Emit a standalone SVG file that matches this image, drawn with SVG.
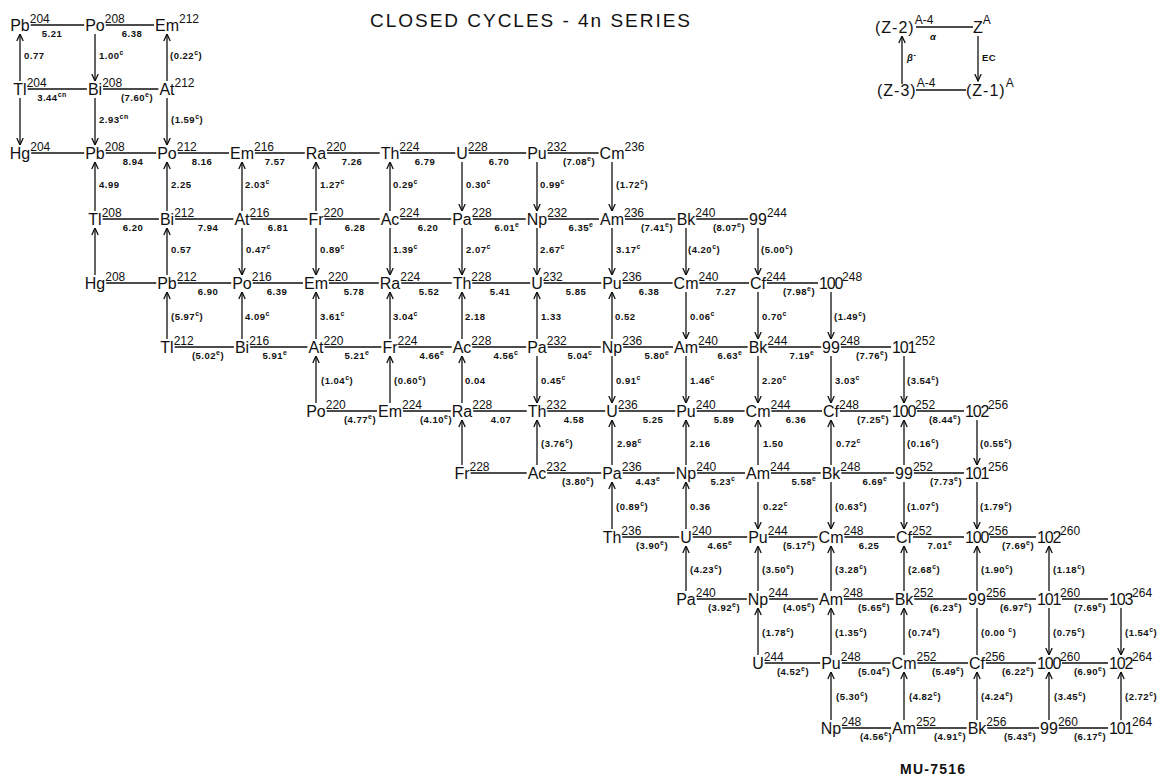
<svg xmlns="http://www.w3.org/2000/svg" width="1173" height="776" viewBox="0 0 1173 776">
<defs>
<style>
.ln{stroke:#111;stroke-width:1.3;fill:none}
.ar{stroke:#111;stroke-width:1.3;fill:none;marker-end:url(#ah)}
.bg{fill:#fff}
.el{font-family:"Liberation Sans",Arial,sans-serif;font-size:16px;fill:#111}
.nm{letter-spacing:-1.2px}
.m{font-size:12px;letter-spacing:0}
.lb{font-family:"Liberation Sans",Arial,sans-serif;font-size:9.5px;font-weight:bold;letter-spacing:0.5px;fill:#111}
.h{text-anchor:middle}
.s{font-size:7px}
.ttl{font-family:"Liberation Sans",Arial,sans-serif;font-size:19px;fill:#111}
</style>
<marker id="ah" viewBox="0 0 8 8" refX="7.5" refY="4" markerWidth="8" markerHeight="8" markerUnits="userSpaceOnUse" orient="auto"><path d="M0.5,0.8 L7.5,4 L0.5,7.2" fill="none" stroke="#111" stroke-width="1.3"/></marker>
</defs>
<rect width="1173" height="776" fill="#fff"/>
<text class="ttl" x="530" y="27" text-anchor="middle" textLength="320" lengthAdjust="spacing">CLOSED CYCLES - 4n SERIES</text>

<g id="connectors">
<path class="ln" d="M20,25H95M95,25H167"/>
<path class="ln" d="M20,89H95M95,89H167"/>
<path class="ln" d="M20,153H95M95,153H167M167,153H242M242,153H316M316,153H390M390,153H462M462,153H537M537,153H612"/>
<path class="ln" d="M95,219H167M167,219H242M242,219H316M316,219H390M390,219H462M462,219H537M537,219H612M612,219H686M686,219H758"/>
<path class="ln" d="M95,283H167M167,283H242M242,283H316M316,283H390M390,283H462M462,283H537M537,283H612M612,283H686M686,283H758M758,283H831"/>
<path class="ln" d="M167,347H242M242,347H316M316,347H390M390,347H462M462,347H537M537,347H612M612,347H686M686,347H758M758,347H831M831,347H904"/>
<path class="ln" d="M316,411H390M390,411H462M462,411H537M537,411H612M612,411H686M686,411H758M758,411H831M831,411H904M904,411H977"/>
<path class="ln" d="M462,473H537M537,473H612M612,473H686M686,473H758M758,473H831M831,473H904M904,473H977"/>
<path class="ln" d="M612,537H686M686,537H758M758,537H831M831,537H904M904,537H977M977,537H1049"/>
<path class="ln" d="M686,599H758M758,599H831M831,599H904M904,599H977M977,599H1049M1049,599H1121"/>
<path class="ln" d="M758,663H831M831,663H904M904,663H977M977,663H1049M1049,663H1121"/>
<path class="ln" d="M831,728H904M904,728H977M977,728H1049M1049,728H1121"/>

<path class="ar" d="M20,81V34"/>
<path class="ar" d="M95,34V81"/>
<path class="ar" d="M167,81V34"/>

<path class="ar" d="M20,98V145"/>
<path class="ar" d="M95,98V145"/>
<path class="ar" d="M167,98V145"/>

<path class="ar" d="M95,211V162"/>
<path class="ar" d="M167,211V162"/>
<path class="ar" d="M242,211V162"/>
<path class="ar" d="M316,211V162"/>
<path class="ar" d="M390,211V162"/>
<path class="ar" d="M462,162V211"/>
<path class="ar" d="M537,162V211"/>
<path class="ar" d="M612,162V211"/>

<path class="ar" d="M95,275V228"/>
<path class="ar" d="M167,275V228"/>
<path class="ar" d="M242,228V275"/>
<path class="ar" d="M316,228V275"/>
<path class="ar" d="M390,228V275"/>
<path class="ar" d="M462,228V275"/>
<path class="ar" d="M537,228V275"/>
<path class="ar" d="M612,228V275"/>
<path class="ar" d="M686,228V275"/>
<path class="ar" d="M758,228V275"/>

<path class="ar" d="M167,339V292"/>
<path class="ar" d="M242,339V292"/>
<path class="ar" d="M316,339V292"/>
<path class="ar" d="M390,339V292"/>
<path class="ar" d="M462,339V292"/>
<path class="ar" d="M537,339V292"/>
<path class="ar" d="M612,339V292"/>
<path class="ar" d="M686,292V339"/>
<path class="ar" d="M758,292V339"/>
<path class="ar" d="M831,292V339"/>

<path class="ar" d="M316,403V356"/>
<path class="ar" d="M390,403V356"/>
<path class="ar" d="M462,403V356"/>
<path class="ar" d="M537,356V403"/>
<path class="ar" d="M612,356V403"/>
<path class="ar" d="M686,356V403"/>
<path class="ar" d="M758,356V403"/>
<path class="ar" d="M831,356V403"/>
<path class="ar" d="M904,356V403"/>

<path class="ar" d="M462,465V420"/>
<path class="ar" d="M537,465V420"/>
<path class="ar" d="M612,465V420"/>
<path class="ar" d="M686,465V420"/>
<path class="ar" d="M758,465V420"/>
<path class="ar" d="M831,465V420"/>
<path class="ar" d="M904,465V420"/>
<path class="ar" d="M977,420V465"/>

<path class="ar" d="M612,529V482"/>
<path class="ar" d="M686,529V482"/>
<path class="ar" d="M758,482V529"/>
<path class="ar" d="M831,482V529"/>
<path class="ar" d="M904,482V529"/>
<path class="ar" d="M977,482V529"/>

<path class="ar" d="M686,591V546"/>
<path class="ar" d="M758,591V546"/>
<path class="ar" d="M831,591V546"/>
<path class="ar" d="M904,591V546"/>
<path class="ar" d="M977,591V546"/>
<path class="ar" d="M1049,591V546"/>

<path class="ar" d="M758,655V608"/>
<path class="ar" d="M831,655V608"/>
<path class="ar" d="M904,655V608"/>
<path class="ln" d="M977,608V655"/>
<path class="ar" d="M1049,608V655"/>
<path class="ar" d="M1121,608V655"/>

<path class="ar" d="M831,720V672"/>
<path class="ar" d="M904,720V672"/>
<path class="ar" d="M977,720V672"/>
<path class="ar" d="M1049,720V672"/>
<path class="ar" d="M1121,720V672"/>
</g>

<g id="labels">
<text class="lb h" x="52" y="37">5.21</text>
<text class="lb h" x="132" y="37">6.38</text>
<text class="lb h" x="52" y="101">3.44<tspan class="s" dy="-4">cn</tspan></text>
<text class="lb h" x="137" y="101">(7.60<tspan class="s" dy="-4">e</tspan><tspan dy="4">)</tspan></text>

<text class="lb h" x="133" y="165">8.94</text>
<text class="lb h" x="202" y="165">8.16</text>
<text class="lb h" x="275" y="165">7.57</text>
<text class="lb h" x="352" y="165">7.26</text>
<text class="lb h" x="425" y="165">6.79</text>
<text class="lb h" x="499" y="165">6.70</text>
<text class="lb h" x="579" y="165">(7.08<tspan class="s" dy="-4">e</tspan><tspan dy="4">)</tspan></text>

<text class="lb h" x="133" y="231">6.20</text>
<text class="lb h" x="208" y="231">7.94</text>
<text class="lb h" x="278" y="231">6.81</text>
<text class="lb h" x="355" y="231">6.28</text>
<text class="lb h" x="428" y="231">6.20</text>
<text class="lb h" x="507" y="231">6.01<tspan class="s" dy="-4">e</tspan></text>
<text class="lb h" x="581" y="231">6.35<tspan class="s" dy="-4">e</tspan></text>
<text class="lb h" x="657" y="231">(7.41<tspan class="s" dy="-4">e</tspan><tspan dy="4">)</tspan></text>
<text class="lb h" x="729" y="231">(8.07<tspan class="s" dy="-4">e</tspan><tspan dy="4">)</tspan></text>

<text class="lb h" x="208" y="295">6.90</text>
<text class="lb h" x="277" y="295">6.39</text>
<text class="lb h" x="354" y="295">5.78</text>
<text class="lb h" x="429" y="295">5.52</text>
<text class="lb h" x="500" y="295">5.41</text>
<text class="lb h" x="576" y="295">5.85</text>
<text class="lb h" x="649" y="295">6.38</text>
<text class="lb h" x="726" y="295">7.27</text>
<text class="lb h" x="799" y="295">(7.98<tspan class="s" dy="-4">e</tspan><tspan dy="4">)</tspan></text>

<text class="lb h" x="208" y="359">(5.02<tspan class="s" dy="-4">e</tspan><tspan dy="4">)</tspan></text>
<text class="lb h" x="275" y="359">5.91<tspan class="s" dy="-4">e</tspan></text>
<text class="lb h" x="357" y="359">5.21<tspan class="s" dy="-4">e</tspan></text>
<text class="lb h" x="432" y="359">4.66<tspan class="s" dy="-4">e</tspan></text>
<text class="lb h" x="506" y="359">4.56<tspan class="s" dy="-4">c</tspan></text>
<text class="lb h" x="580" y="359">5.04<tspan class="s" dy="-4">c</tspan></text>
<text class="lb h" x="657" y="359">5.80<tspan class="s" dy="-4">e</tspan></text>
<text class="lb h" x="730" y="359">6.63<tspan class="s" dy="-4">e</tspan></text>
<text class="lb h" x="802" y="359">7.19<tspan class="s" dy="-4">e</tspan></text>
<text class="lb h" x="872" y="359">(7.76<tspan class="s" dy="-4">e</tspan><tspan dy="4">)</tspan></text>

<text class="lb h" x="360" y="423">(4.77<tspan class="s" dy="-4">e</tspan><tspan dy="4">)</tspan></text>
<text class="lb h" x="436" y="423">(4.10<tspan class="s" dy="-4">e</tspan><tspan dy="4">)</tspan></text>
<text class="lb h" x="501" y="423">4.07</text>
<text class="lb h" x="574" y="423">4.58</text>
<text class="lb h" x="653" y="423">5.25</text>
<text class="lb h" x="724" y="423">5.89</text>
<text class="lb h" x="796" y="423">6.36</text>
<text class="lb h" x="873" y="423">(7.25<tspan class="s" dy="-4">e</tspan><tspan dy="4">)</tspan></text>
<text class="lb h" x="945" y="423">(8.44<tspan class="s" dy="-4">e</tspan><tspan dy="4">)</tspan></text>

<text class="lb h" x="578" y="485">(3.80<tspan class="s" dy="-4">e</tspan><tspan dy="4">)</tspan></text>
<text class="lb h" x="648" y="485">4.43<tspan class="s" dy="-4">e</tspan></text>
<text class="lb h" x="723" y="485">5.23<tspan class="s" dy="-4">c</tspan></text>
<text class="lb h" x="804" y="485">5.58<tspan class="s" dy="-4">e</tspan></text>
<text class="lb h" x="875" y="485">6.69<tspan class="s" dy="-4">e</tspan></text>
<text class="lb h" x="946" y="485">(7.73<tspan class="s" dy="-4">e</tspan><tspan dy="4">)</tspan></text>

<text class="lb h" x="652" y="549">(3.90<tspan class="s" dy="-4">e</tspan><tspan dy="4">)</tspan></text>
<text class="lb h" x="720" y="549">4.65<tspan class="s" dy="-4">e</tspan></text>
<text class="lb h" x="799" y="549">(5.17<tspan class="s" dy="-4">e</tspan><tspan dy="4">)</tspan></text>
<text class="lb h" x="869" y="549">6.25</text>
<text class="lb h" x="940" y="549">7.01<tspan class="s" dy="-4">e</tspan></text>
<text class="lb h" x="1018" y="549">(7.69<tspan class="s" dy="-4">e</tspan><tspan dy="4">)</tspan></text>

<text class="lb h" x="724" y="611">(3.92<tspan class="s" dy="-4">e</tspan><tspan dy="4">)</tspan></text>
<text class="lb h" x="799" y="611">(4.05<tspan class="s" dy="-4">e</tspan><tspan dy="4">)</tspan></text>
<text class="lb h" x="874" y="611">(5.65<tspan class="s" dy="-4">e</tspan><tspan dy="4">)</tspan></text>
<text class="lb h" x="946" y="611">(6.23<tspan class="s" dy="-4">e</tspan><tspan dy="4">)</tspan></text>
<text class="lb h" x="1016" y="611">(6.97<tspan class="s" dy="-4">e</tspan><tspan dy="4">)</tspan></text>
<text class="lb h" x="1090" y="611">(7.69<tspan class="s" dy="-4">e</tspan><tspan dy="4">)</tspan></text>

<text class="lb h" x="793" y="675">(4.52<tspan class="s" dy="-4">e</tspan><tspan dy="4">)</tspan></text>
<text class="lb h" x="874" y="675">(5.04<tspan class="s" dy="-4">e</tspan><tspan dy="4">)</tspan></text>
<text class="lb h" x="948" y="675">(5.49<tspan class="s" dy="-4">e</tspan><tspan dy="4">)</tspan></text>
<text class="lb h" x="1018" y="675">(6.22<tspan class="s" dy="-4">e</tspan><tspan dy="4">)</tspan></text>
<text class="lb h" x="1090" y="675">(6.90<tspan class="s" dy="-4">e</tspan><tspan dy="4">)</tspan></text>

<text class="lb h" x="876" y="740">(4.56<tspan class="s" dy="-4">e</tspan><tspan dy="4">)</tspan></text>
<text class="lb h" x="950" y="740">(4.91<tspan class="s" dy="-4">e</tspan><tspan dy="4">)</tspan></text>
<text class="lb h" x="1020" y="740">(5.43<tspan class="s" dy="-4">e</tspan><tspan dy="4">)</tspan></text>
<text class="lb h" x="1090" y="740">(6.17<tspan class="s" dy="-4">e</tspan><tspan dy="4">)</tspan></text>

<text class="lb" x="24" y="59">0.77</text>
<text class="lb" x="99" y="59">1.00<tspan class="s" dy="-4">c</tspan></text>
<text class="lb" x="170" y="59">(0.22<tspan class="s" dy="-4">c</tspan><tspan dy="4">)</tspan></text>
<text class="lb" x="99" y="123">2.93<tspan class="s" dy="-4">cn</tspan></text>
<text class="lb" x="171" y="123">(1.59<tspan class="s" dy="-4">c</tspan><tspan dy="4">)</tspan></text>

<text class="lb" x="99" y="188">4.99</text>
<text class="lb" x="171" y="188">2.25</text>
<text class="lb" x="245" y="188">2.03<tspan class="s" dy="-4">c</tspan></text>
<text class="lb" x="320" y="188">1.27<tspan class="s" dy="-4">c</tspan></text>
<text class="lb" x="393" y="188">0.29<tspan class="s" dy="-4">c</tspan></text>
<text class="lb" x="466" y="188">0.30<tspan class="s" dy="-4">c</tspan></text>
<text class="lb" x="540" y="188">0.99<tspan class="s" dy="-4">c</tspan></text>
<text class="lb" x="616" y="188">(1.72<tspan class="s" dy="-4">c</tspan><tspan dy="4">)</tspan></text>

<text class="lb" x="171" y="253">0.57</text>
<text class="lb" x="246" y="253">0.47<tspan class="s" dy="-4">c</tspan></text>
<text class="lb" x="320" y="253">0.89<tspan class="s" dy="-4">c</tspan></text>
<text class="lb" x="393" y="253">1.39<tspan class="s" dy="-4">c</tspan></text>
<text class="lb" x="466" y="253">2.07<tspan class="s" dy="-4">c</tspan></text>
<text class="lb" x="540" y="253">2.67<tspan class="s" dy="-4">c</tspan></text>
<text class="lb" x="616" y="253">3.17<tspan class="s" dy="-4">c</tspan></text>
<text class="lb" x="688" y="253">(4.20<tspan class="s" dy="-4">c</tspan><tspan dy="4">)</tspan></text>
<text class="lb" x="761" y="253">(5.00<tspan class="s" dy="-4">c</tspan><tspan dy="4">)</tspan></text>

<text class="lb" x="171" y="320">(5.97<tspan class="s" dy="-4">c</tspan><tspan dy="4">)</tspan></text>
<text class="lb" x="245" y="320">4.09<tspan class="s" dy="-4">c</tspan></text>
<text class="lb" x="320" y="320">3.61<tspan class="s" dy="-4">c</tspan></text>
<text class="lb" x="393" y="320">3.04<tspan class="s" dy="-4">c</tspan></text>
<text class="lb" x="465" y="320">2.18</text>
<text class="lb" x="541" y="320">1.33</text>
<text class="lb" x="615" y="320">0.52</text>
<text class="lb" x="690" y="320">0.06<tspan class="s" dy="-4">c</tspan></text>
<text class="lb" x="762" y="320">0.70<tspan class="s" dy="-4">c</tspan></text>
<text class="lb" x="834" y="320">(1.49<tspan class="s" dy="-4">c</tspan><tspan dy="4">)</tspan></text>

<text class="lb" x="321" y="384">(1.04<tspan class="s" dy="-4">c</tspan><tspan dy="4">)</tspan></text>
<text class="lb" x="394" y="384">(0.60<tspan class="s" dy="-4">c</tspan><tspan dy="4">)</tspan></text>
<text class="lb" x="465" y="384">0.04</text>
<text class="lb" x="541" y="384">0.45<tspan class="s" dy="-4">c</tspan></text>
<text class="lb" x="616" y="384">0.91<tspan class="s" dy="-4">c</tspan></text>
<text class="lb" x="690" y="384">1.46<tspan class="s" dy="-4">c</tspan></text>
<text class="lb" x="762" y="384">2.20<tspan class="s" dy="-4">c</tspan></text>
<text class="lb" x="835" y="384">3.03<tspan class="s" dy="-4">c</tspan></text>
<text class="lb" x="907" y="384">(3.54<tspan class="s" dy="-4">c</tspan><tspan dy="4">)</tspan></text>

<text class="lb" x="541" y="447">(3.76<tspan class="s" dy="-4">c</tspan><tspan dy="4">)</tspan></text>
<text class="lb" x="617" y="447">2.98<tspan class="s" dy="-4">c</tspan></text>
<text class="lb" x="690" y="447">2.16</text>
<text class="lb" x="763" y="447">1.50</text>
<text class="lb" x="836" y="447">0.72<tspan class="s" dy="-4">c</tspan></text>
<text class="lb" x="907" y="447">(0.16<tspan class="s" dy="-4">c</tspan><tspan dy="4">)</tspan></text>
<text class="lb" x="980" y="447">(0.55<tspan class="s" dy="-4">c</tspan><tspan dy="4">)</tspan></text>

<text class="lb" x="616" y="510">(0.89<tspan class="s" dy="-4">c</tspan><tspan dy="4">)</tspan></text>
<text class="lb" x="690" y="510">0.36</text>
<text class="lb" x="763" y="510">0.22<tspan class="s" dy="-4">c</tspan></text>
<text class="lb" x="835" y="510">(0.63<tspan class="s" dy="-4">c</tspan><tspan dy="4">)</tspan></text>
<text class="lb" x="907" y="510">(1.07<tspan class="s" dy="-4">c</tspan><tspan dy="4">)</tspan></text>
<text class="lb" x="980" y="510">(1.79<tspan class="s" dy="-4">c</tspan><tspan dy="4">)</tspan></text>

<text class="lb" x="690" y="573">(4.23<tspan class="s" dy="-4">c</tspan><tspan dy="4">)</tspan></text>
<text class="lb" x="762" y="573">(3.50<tspan class="s" dy="-4">e</tspan><tspan dy="4">)</tspan></text>
<text class="lb" x="835" y="573">(3.28<tspan class="s" dy="-4">c</tspan><tspan dy="4">)</tspan></text>
<text class="lb" x="908" y="573">(2.68<tspan class="s" dy="-4">c</tspan><tspan dy="4">)</tspan></text>
<text class="lb" x="981" y="573">(1.90<tspan class="s" dy="-4">c</tspan><tspan dy="4">)</tspan></text>
<text class="lb" x="1053" y="573">(1.18<tspan class="s" dy="-4">c</tspan><tspan dy="4">)</tspan></text>

<text class="lb" x="762" y="636">(1.78<tspan class="s" dy="-4">c</tspan><tspan dy="4">)</tspan></text>
<text class="lb" x="835" y="636">(1.35<tspan class="s" dy="-4">c</tspan><tspan dy="4">)</tspan></text>
<text class="lb" x="908" y="636">(0.74<tspan class="s" dy="-4">e</tspan><tspan dy="4">)</tspan></text>
<text class="lb" x="981" y="636">(0.00 <tspan class="s" dy="-4">c</tspan><tspan dy="4">)</tspan></text>
<text class="lb" x="1053" y="636">(0.75<tspan class="s" dy="-4">c</tspan><tspan dy="4">)</tspan></text>
<text class="lb" x="1125" y="636">(1.54<tspan class="s" dy="-4">c</tspan><tspan dy="4">)</tspan></text>

<text class="lb" x="836" y="700">(5.30<tspan class="s" dy="-4">c</tspan><tspan dy="4">)</tspan></text>
<text class="lb" x="909" y="700">(4.82<tspan class="s" dy="-4">c</tspan><tspan dy="4">)</tspan></text>
<text class="lb" x="981" y="700">(4.24<tspan class="s" dy="-4">e</tspan><tspan dy="4">)</tspan></text>
<text class="lb" x="1054" y="700">(3.45<tspan class="s" dy="-4">c</tspan><tspan dy="4">)</tspan></text>
<text class="lb" x="1125" y="700">(2.72<tspan class="s" dy="-4">c</tspan><tspan dy="4">)</tspan></text>
</g>

<g id="n-Pb204"><rect class="bg" x="9.2" y="17" width="21.6" height="15"/><text class="el" x="10.2" y="31">Pb<tspan class="m" dy="-8">204</tspan></text></g>
<g id="n-Po208"><rect class="bg" x="84.2" y="17" width="21.6" height="15"/><text class="el" x="85.2" y="31">Po<tspan class="m" dy="-8">208</tspan></text></g>
<g id="n-Em212"><rect class="bg" x="154" y="17" width="26" height="15"/><text class="el" x="155" y="31">Em<tspan class="m" dy="-8">212</tspan></text></g>

<g id="n-Tl204"><rect class="bg" x="12.3" y="81" width="15.4" height="15"/><text class="el" x="13.3" y="95">Tl<tspan class="m" dy="-8">204</tspan></text></g>
<g id="n-Bi208"><rect class="bg" x="86.9" y="81" width="16.2" height="15"/><text class="el" x="87.9" y="95">Bi<tspan class="m" dy="-8">208</tspan></text></g>
<g id="n-At212"><rect class="bg" x="158.4" y="81" width="17.2" height="15"/><text class="el" x="159.4" y="95">At<tspan class="m" dy="-8">212</tspan></text></g>

<g id="n-Hg204"><rect class="bg" x="8.8" y="145" width="22.4" height="15"/><text class="el" x="9.8" y="159">Hg<tspan class="m" dy="-8">204</tspan></text></g>
<g id="n-Pb208"><rect class="bg" x="84.2" y="145" width="21.6" height="15"/><text class="el" x="85.2" y="159">Pb<tspan class="m" dy="-8">208</tspan></text></g>
<g id="n-Po212"><rect class="bg" x="156.2" y="145" width="21.6" height="15"/><text class="el" x="157.2" y="159">Po<tspan class="m" dy="-8">212</tspan></text></g>
<g id="n-Em216"><rect class="bg" x="229" y="145" width="26" height="15"/><text class="el" x="230" y="159">Em<tspan class="m" dy="-8">216</tspan></text></g>
<g id="n-Ra220"><rect class="bg" x="304.8" y="145" width="22.4" height="15"/><text class="el" x="305.8" y="159">Ra<tspan class="m" dy="-8">220</tspan></text></g>
<g id="n-Th224"><rect class="bg" x="379.7" y="145" width="20.6" height="15"/><text class="el" x="380.7" y="159">Th<tspan class="m" dy="-8">224</tspan></text></g>
<g id="n-U228"><rect class="bg" x="455.2" y="145" width="13.6" height="15"/><text class="el" x="456.2" y="159">U<tspan class="m" dy="-8">228</tspan></text></g>
<g id="n-Pu232"><rect class="bg" x="526.2" y="145" width="21.6" height="15"/><text class="el" x="527.2" y="159">Pu<tspan class="m" dy="-8">232</tspan></text></g>
<g id="n-Cm236"><rect class="bg" x="598.6" y="145" width="26.8" height="15"/><text class="el" x="599.6" y="159">Cm<tspan class="m" dy="-8">236</tspan></text></g>

<g id="n-Tl208"><rect class="bg" x="87.3" y="211" width="15.4" height="15"/><text class="el" x="88.3" y="225">Tl<tspan class="m" dy="-8">208</tspan></text></g>
<g id="n-Bi212"><rect class="bg" x="158.9" y="211" width="16.2" height="15"/><text class="el" x="159.9" y="225">Bi<tspan class="m" dy="-8">212</tspan></text></g>
<g id="n-At216"><rect class="bg" x="233.4" y="211" width="17.2" height="15"/><text class="el" x="234.4" y="225">At<tspan class="m" dy="-8">216</tspan></text></g>
<g id="n-Fr220"><rect class="bg" x="307.4" y="211" width="17.2" height="15"/><text class="el" x="308.4" y="225">Fr<tspan class="m" dy="-8">220</tspan></text></g>
<g id="n-Ac224"><rect class="bg" x="379.7" y="211" width="20.6" height="15"/><text class="el" x="380.7" y="225">Ac<tspan class="m" dy="-8">224</tspan></text></g>
<g id="n-Pa228"><rect class="bg" x="451.2" y="211" width="21.6" height="15"/><text class="el" x="452.2" y="225">Pa<tspan class="m" dy="-8">228</tspan></text></g>
<g id="n-Np232"><rect class="bg" x="525.8" y="211" width="22.4" height="15"/><text class="el" x="526.8" y="225">Np<tspan class="m" dy="-8">232</tspan></text></g>
<g id="n-Am236"><rect class="bg" x="599" y="211" width="26" height="15"/><text class="el" x="600" y="225">Am<tspan class="m" dy="-8">236</tspan></text></g>
<g id="n-Bk240"><rect class="bg" x="675.7" y="211" width="20.6" height="15"/><text class="el" x="676.7" y="225">Bk<tspan class="m" dy="-8">240</tspan></text></g>
<g id="n-E99-244"><rect class="bg" x="748.1" y="211" width="19.8" height="15"/><text class="el" x="749.1" y="225">99<tspan class="m" dy="-8">244</tspan></text></g>

<g id="n-Hg208"><rect class="bg" x="83.8" y="275" width="22.4" height="15"/><text class="el" x="84.8" y="289">Hg<tspan class="m" dy="-8">208</tspan></text></g>
<g id="n-Pb212"><rect class="bg" x="156.2" y="275" width="21.6" height="15"/><text class="el" x="157.2" y="289">Pb<tspan class="m" dy="-8">212</tspan></text></g>
<g id="n-Po216"><rect class="bg" x="231.2" y="275" width="21.6" height="15"/><text class="el" x="232.2" y="289">Po<tspan class="m" dy="-8">216</tspan></text></g>
<g id="n-Em220"><rect class="bg" x="303" y="275" width="26" height="15"/><text class="el" x="304" y="289">Em<tspan class="m" dy="-8">220</tspan></text></g>
<g id="n-Ra224"><rect class="bg" x="378.8" y="275" width="22.4" height="15"/><text class="el" x="379.8" y="289">Ra<tspan class="m" dy="-8">224</tspan></text></g>
<g id="n-Th228"><rect class="bg" x="451.7" y="275" width="20.6" height="15"/><text class="el" x="452.7" y="289">Th<tspan class="m" dy="-8">228</tspan></text></g>
<g id="n-U232"><rect class="bg" x="530.2" y="275" width="13.6" height="15"/><text class="el" x="531.2" y="289">U<tspan class="m" dy="-8">232</tspan></text></g>
<g id="n-Pu236"><rect class="bg" x="601.2" y="275" width="21.6" height="15"/><text class="el" x="602.2" y="289">Pu<tspan class="m" dy="-8">236</tspan></text></g>
<g id="n-Cm240"><rect class="bg" x="672.6" y="275" width="26.8" height="15"/><text class="el" x="673.6" y="289">Cm<tspan class="m" dy="-8">240</tspan></text></g>
<g id="n-Cf244"><rect class="bg" x="749" y="275" width="18" height="15"/><text class="el" x="750" y="289">Cf<tspan class="m" dy="-8">244</tspan></text></g>
<g id="n-E100-248"><rect class="bg" x="818" y="275" width="26" height="15"/><text class="el nm" x="819" y="289">100<tspan class="m" dy="-8">248</tspan></text></g>

<g id="n-Tl212"><rect class="bg" x="159.3" y="339" width="15.4" height="15"/><text class="el" x="160.3" y="353">Tl<tspan class="m" dy="-8">212</tspan></text></g>
<g id="n-Bi216"><rect class="bg" x="233.9" y="339" width="16.2" height="15"/><text class="el" x="234.9" y="353">Bi<tspan class="m" dy="-8">216</tspan></text></g>
<g id="n-At220"><rect class="bg" x="307.4" y="339" width="17.2" height="15"/><text class="el" x="308.4" y="353">At<tspan class="m" dy="-8">220</tspan></text></g>
<g id="n-Fr224"><rect class="bg" x="381.4" y="339" width="17.2" height="15"/><text class="el" x="382.4" y="353">Fr<tspan class="m" dy="-8">224</tspan></text></g>
<g id="n-Ac228"><rect class="bg" x="451.7" y="339" width="20.6" height="15"/><text class="el" x="452.7" y="353">Ac<tspan class="m" dy="-8">228</tspan></text></g>
<g id="n-Pa232"><rect class="bg" x="526.2" y="339" width="21.6" height="15"/><text class="el" x="527.2" y="353">Pa<tspan class="m" dy="-8">232</tspan></text></g>
<g id="n-Np236"><rect class="bg" x="600.8" y="339" width="22.4" height="15"/><text class="el" x="601.8" y="353">Np<tspan class="m" dy="-8">236</tspan></text></g>
<g id="n-Am240"><rect class="bg" x="673" y="339" width="26" height="15"/><text class="el" x="674" y="353">Am<tspan class="m" dy="-8">240</tspan></text></g>
<g id="n-Bk244"><rect class="bg" x="747.7" y="339" width="20.6" height="15"/><text class="el" x="748.7" y="353">Bk<tspan class="m" dy="-8">244</tspan></text></g>
<g id="n-E99-248"><rect class="bg" x="821.1" y="339" width="19.8" height="15"/><text class="el" x="822.1" y="353">99<tspan class="m" dy="-8">248</tspan></text></g>
<g id="n-E101-252"><rect class="bg" x="891" y="339" width="26" height="15"/><text class="el nm" x="892" y="353">101<tspan class="m" dy="-8">252</tspan></text></g>

<g id="n-Po220"><rect class="bg" x="305.2" y="403" width="21.6" height="15"/><text class="el" x="306.2" y="417">Po<tspan class="m" dy="-8">220</tspan></text></g>
<g id="n-Em224"><rect class="bg" x="377" y="403" width="26" height="15"/><text class="el" x="378" y="417">Em<tspan class="m" dy="-8">224</tspan></text></g>
<g id="n-Ra228"><rect class="bg" x="450.8" y="403" width="22.4" height="15"/><text class="el" x="451.8" y="417">Ra<tspan class="m" dy="-8">228</tspan></text></g>
<g id="n-Th232"><rect class="bg" x="526.7" y="403" width="20.6" height="15"/><text class="el" x="527.7" y="417">Th<tspan class="m" dy="-8">232</tspan></text></g>
<g id="n-U236"><rect class="bg" x="605.2" y="403" width="13.6" height="15"/><text class="el" x="606.2" y="417">U<tspan class="m" dy="-8">236</tspan></text></g>
<g id="n-Pu240"><rect class="bg" x="675.2" y="403" width="21.6" height="15"/><text class="el" x="676.2" y="417">Pu<tspan class="m" dy="-8">240</tspan></text></g>
<g id="n-Cm244"><rect class="bg" x="744.6" y="403" width="26.8" height="15"/><text class="el" x="745.6" y="417">Cm<tspan class="m" dy="-8">244</tspan></text></g>
<g id="n-Cf248"><rect class="bg" x="822" y="403" width="18" height="15"/><text class="el" x="823" y="417">Cf<tspan class="m" dy="-8">248</tspan></text></g>
<g id="n-E100-252"><rect class="bg" x="891" y="403" width="26" height="15"/><text class="el nm" x="892" y="417">100<tspan class="m" dy="-8">252</tspan></text></g>
<g id="n-E102-256"><rect class="bg" x="964" y="403" width="26" height="15"/><text class="el nm" x="965" y="417">102<tspan class="m" dy="-8">256</tspan></text></g>

<g id="n-Fr228"><rect class="bg" x="453.4" y="465" width="17.2" height="15"/><text class="el" x="454.4" y="479">Fr<tspan class="m" dy="-8">228</tspan></text></g>
<g id="n-Ac232"><rect class="bg" x="526.7" y="465" width="20.6" height="15"/><text class="el" x="527.7" y="479">Ac<tspan class="m" dy="-8">232</tspan></text></g>
<g id="n-Pa236"><rect class="bg" x="601.2" y="465" width="21.6" height="15"/><text class="el" x="602.2" y="479">Pa<tspan class="m" dy="-8">236</tspan></text></g>
<g id="n-Np240"><rect class="bg" x="674.8" y="465" width="22.4" height="15"/><text class="el" x="675.8" y="479">Np<tspan class="m" dy="-8">240</tspan></text></g>
<g id="n-Am244"><rect class="bg" x="745" y="465" width="26" height="15"/><text class="el" x="746" y="479">Am<tspan class="m" dy="-8">244</tspan></text></g>
<g id="n-Bk248"><rect class="bg" x="820.7" y="465" width="20.6" height="15"/><text class="el" x="821.7" y="479">Bk<tspan class="m" dy="-8">248</tspan></text></g>
<g id="n-E99-252"><rect class="bg" x="894.1" y="465" width="19.8" height="15"/><text class="el" x="895.1" y="479">99<tspan class="m" dy="-8">252</tspan></text></g>
<g id="n-E101-256"><rect class="bg" x="964" y="465" width="26" height="15"/><text class="el nm" x="965" y="479">101<tspan class="m" dy="-8">256</tspan></text></g>

<g id="n-Th236"><rect class="bg" x="601.7" y="529" width="20.6" height="15"/><text class="el" x="602.7" y="543">Th<tspan class="m" dy="-8">236</tspan></text></g>
<g id="n-U240"><rect class="bg" x="679.2" y="529" width="13.6" height="15"/><text class="el" x="680.2" y="543">U<tspan class="m" dy="-8">240</tspan></text></g>
<g id="n-Pu244"><rect class="bg" x="747.2" y="529" width="21.6" height="15"/><text class="el" x="748.2" y="543">Pu<tspan class="m" dy="-8">244</tspan></text></g>
<g id="n-Cm248"><rect class="bg" x="817.6" y="529" width="26.8" height="15"/><text class="el" x="818.6" y="543">Cm<tspan class="m" dy="-8">248</tspan></text></g>
<g id="n-Cf252"><rect class="bg" x="895" y="529" width="18" height="15"/><text class="el" x="896" y="543">Cf<tspan class="m" dy="-8">252</tspan></text></g>
<g id="n-E100-256"><rect class="bg" x="964" y="529" width="26" height="15"/><text class="el nm" x="965" y="543">100<tspan class="m" dy="-8">256</tspan></text></g>
<g id="n-E102-260"><rect class="bg" x="1036" y="529" width="26" height="15"/><text class="el nm" x="1037" y="543">102<tspan class="m" dy="-8">260</tspan></text></g>

<g id="n-Pa240"><rect class="bg" x="675.2" y="591" width="21.6" height="15"/><text class="el" x="676.2" y="605">Pa<tspan class="m" dy="-8">240</tspan></text></g>
<g id="n-Np244"><rect class="bg" x="746.8" y="591" width="22.4" height="15"/><text class="el" x="747.8" y="605">Np<tspan class="m" dy="-8">244</tspan></text></g>
<g id="n-Am248"><rect class="bg" x="818" y="591" width="26" height="15"/><text class="el" x="819" y="605">Am<tspan class="m" dy="-8">248</tspan></text></g>
<g id="n-Bk252"><rect class="bg" x="893.7" y="591" width="20.6" height="15"/><text class="el" x="894.7" y="605">Bk<tspan class="m" dy="-8">252</tspan></text></g>
<g id="n-E99-256"><rect class="bg" x="967.1" y="591" width="19.8" height="15"/><text class="el" x="968.1" y="605">99<tspan class="m" dy="-8">256</tspan></text></g>
<g id="n-E101-260"><rect class="bg" x="1036" y="591" width="26" height="15"/><text class="el nm" x="1037" y="605">101<tspan class="m" dy="-8">260</tspan></text></g>
<g id="n-E103-264"><rect class="bg" x="1108" y="591" width="26" height="15"/><text class="el nm" x="1109" y="605">103<tspan class="m" dy="-8">264</tspan></text></g>

<g id="n-U244"><rect class="bg" x="751.2" y="655" width="13.6" height="15"/><text class="el" x="752.2" y="669">U<tspan class="m" dy="-8">244</tspan></text></g>
<g id="n-Pu248"><rect class="bg" x="820.2" y="655" width="21.6" height="15"/><text class="el" x="821.2" y="669">Pu<tspan class="m" dy="-8">248</tspan></text></g>
<g id="n-Cm252"><rect class="bg" x="890.6" y="655" width="26.8" height="15"/><text class="el" x="891.6" y="669">Cm<tspan class="m" dy="-8">252</tspan></text></g>
<g id="n-Cf256"><rect class="bg" x="968" y="655" width="18" height="15"/><text class="el" x="969" y="669">Cf<tspan class="m" dy="-8">256</tspan></text></g>
<g id="n-E100-260"><rect class="bg" x="1036" y="655" width="26" height="15"/><text class="el nm" x="1037" y="669">100<tspan class="m" dy="-8">260</tspan></text></g>
<g id="n-E102-264"><rect class="bg" x="1108" y="655" width="26" height="15"/><text class="el nm" x="1109" y="669">102<tspan class="m" dy="-8">264</tspan></text></g>

<g id="n-Np248"><rect class="bg" x="819.8" y="720" width="22.4" height="15"/><text class="el" x="820.8" y="734">Np<tspan class="m" dy="-8">248</tspan></text></g>
<g id="n-Am252"><rect class="bg" x="891" y="720" width="26" height="15"/><text class="el" x="892" y="734">Am<tspan class="m" dy="-8">252</tspan></text></g>
<g id="n-Bk256"><rect class="bg" x="966.7" y="720" width="20.6" height="15"/><text class="el" x="967.7" y="734">Bk<tspan class="m" dy="-8">256</tspan></text></g>
<g id="n-E99-260"><rect class="bg" x="1039.1" y="720" width="19.8" height="15"/><text class="el" x="1040.1" y="734">99<tspan class="m" dy="-8">260</tspan></text></g>
<g id="n-E101-264"><rect class="bg" x="1108" y="720" width="26" height="15"/><text class="el nm" x="1109" y="734">101<tspan class="m" dy="-8">264</tspan></text></g>

<g id="legend">
<path class="ln" d="M916,27H973M916,90H966"/>
<path class="ar" d="M902,84V36"/>
<path class="ar" d="M978,36V81"/>
<text class="el" x="875" y="33" letter-spacing="1">(Z-2)<tspan class="m" dy="-9">A-4</tspan></text>
<text class="el" x="973" y="33">Z<tspan class="m" dy="-9">A</tspan></text>
<text class="el" x="877" y="96" letter-spacing="1">(Z-3)<tspan class="m" dy="-9">A-4</tspan></text>
<text class="el" x="966" y="96" letter-spacing="1">(Z-1)<tspan class="m" dy="-9">A</tspan></text>
<text class="lb" x="930" y="40" font-style="italic" font-size="11">α</text>
<text class="lb" x="907" y="61" font-style="italic" font-size="11">β<tspan class="s" dy="-4">-</tspan></text>
<text class="lb" x="982" y="61">EC</text>
</g>

<text x="900" y="774" font-family="Liberation Sans, Arial, sans-serif" font-size="14" font-weight="bold" fill="#111" textLength="65" lengthAdjust="spacing">MU-7516</text>
</svg>
